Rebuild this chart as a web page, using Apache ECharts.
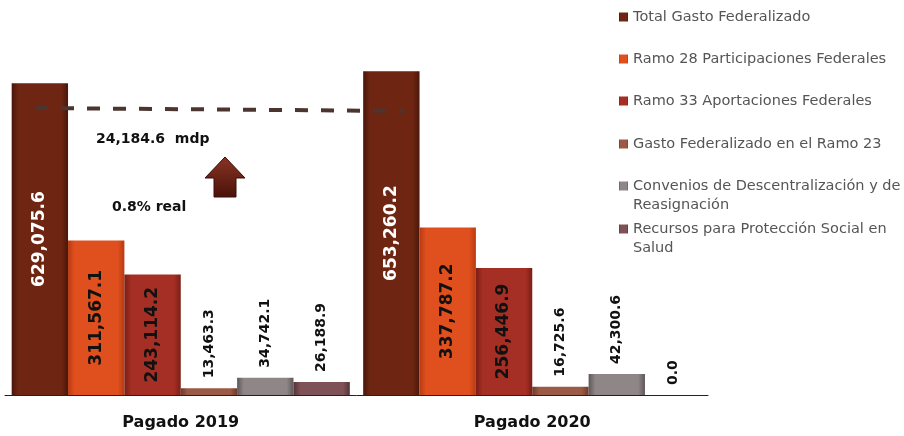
<!DOCTYPE html>
<html>
<head>
<meta charset="utf-8">
<script src="https://cdn.jsdelivr.net/npm/echarts@6/dist/echarts.min.js"></script>
<style>html,body{margin:0;padding:0;background:#fff;}#c{width:904px;height:436px;}</style>
</head>
<body>
<div id="c"></div>
<script>
const categories = ['Pagado 2019', 'Pagado 2020'];
const seriesNames = [
  'Total Gasto Federalizado',
  'Ramo 28 Participaciones Federales',
  'Ramo 33 Aportaciones Federales',
  'Gasto Federalizado en el Ramo 23',
  'Convenios de Descentralización y de Reasignación',
  'Recursos para Protección Social en Salud'
];
const totalGasto = [629075.6, 653260.2];
const ramo28 = [311567.1, 337787.2];
const ramo33 = [243114.2, 256446.9];
const ramo23 = [13463.3, 16725.6];
const convenios = [34742.1, 42300.6];
const recursosSalud = [26188.9, 0.0];
const legendLines = [
  ['Total Gasto Federalizado'],
  ['Ramo 28 Participaciones Federales'],
  ['Ramo 33 Aportaciones Federales'],
  ['Gasto Federalizado en el Ramo 23'],
  ['Convenios de Descentralización y de', 'Reasignación'],
  ['Recursos para Protección Social en', 'Salud']
];
const annotationAmount = '24,184.6  mdp';
const annotationReal = '0.8% real';

const baseColors = ['#6E2612', '#E0501E', '#A52F24', '#9A5A45', '#8F8787', '#7E5257'];
const edgeColors = ['#4A160A', '#B83A12', '#7A1E16', '#6E3A2A', '#5E5757', '#553236'];

function grad(i) {
  return new echarts.graphic.LinearGradient(0, 0, 1, 0, [
    {offset: 0, color: edgeColors[i]},
    {offset: 0.12, color: baseColors[i]},
    {offset: 0.88, color: baseColors[i]},
    {offset: 1, color: edgeColors[i]}
  ]);
}
function fmt(p) {
  return p.value.toLocaleString('en-US', {minimumFractionDigits: 1, maximumFractionDigits: 1});
}
const dataArrs = [totalGasto, ramo28, ramo33, ramo23, convenios, recursosSalud];
const series = dataArrs.map((arr, i) => {
  let label;
  if (i < 3) {
    label = {show: true, position: 'inside', rotate: 90, formatter: fmt,
      color: i === 0 ? '#ffffff' : '#111111', fontFamily: 'DejaVu Sans', fontWeight: 'bold', fontSize: 17};
  } else {
    label = {show: true, position: 'top', distance: 10, rotate: 90, align: 'left', verticalAlign: 'middle',
      formatter: fmt, color: '#111111', fontFamily: 'DejaVu Sans', fontWeight: 'bold', fontSize: 14};
  }
  return {
    name: seriesNames[i], type: 'bar', data: arr, barGap: '0%', barCategoryGap: '3.8%',
    itemStyle: {color: grad(i), borderWidth: 0},
    label: label
  };
});

const legends = seriesNames.map((n, i) => ({
  data: [n], orient: 'vertical', left: 619,
  top: [7, 49, 91, 134, 176, 219][i],
  icon: 'rect', itemWidth: 9, itemHeight: 9, itemGap: 0, padding: 0,
  formatter: () => legendLines[i][0],
  textStyle: {fontFamily: 'DejaVu Sans', fontSize: 14.5, color: '#555555', lineHeight: 20}
}));

const chart = echarts.init(document.getElementById('c'));
chart.setOption({
  animation: false,
  backgroundColor: '#ffffff',
  color: baseColors,
  grid: {left: 5, right: 196, top: 48, bottom: 41},
  xAxis: {type: 'category', data: categories,
    axisLine: {lineStyle: {color: '#222', width: 1}}, axisTick: {show: false},
    axisLabel: {color: '#111', fontFamily: 'DejaVu Sans', fontWeight: 'bold', fontSize: 16, margin: 20}},
  yAxis: {type: 'value', min: 0, max: 700000, show: false},
  legend: legends,
  series: series,
  graphic: [
    {type: 'line', z: 100, shape: {x1: 35, y1: 108, x2: 404, y2: 111},
      style: {stroke: '#4B3530', lineWidth: 4, lineDash: [13, 13], lineCap: 'butt'}},
    {type: 'text', left: 96, top: 132, z: 100,
      style: {text: annotationAmount, fontFamily: 'DejaVu Sans', fontWeight: 'bold', fontSize: 14, fill: '#111'}},
    {type: 'text', left: 112, top: 200, z: 100,
      style: {text: annotationReal, fontFamily: 'DejaVu Sans', fontWeight: 'bold', fontSize: 14, fill: '#111'}},
    {type: 'polygon', z: 100,
      shape: {points: [[225, 157], [245, 178], [236, 178], [236, 197], [214, 197], [214, 178], [205, 178]]},
      style: {fill: new echarts.graphic.LinearGradient(0, 0, 0, 1, [
        {offset: 0, color: '#8A3424'}, {offset: 1, color: '#4A120A'}]), stroke: '#3A0E08', lineWidth: 1}},
    {type: 'text', left: 633, top: 198, z: 100,
      style: {text: legendLines[4][1], fontFamily: 'DejaVu Sans', fontSize: 14.5, fill: '#555555'}},
    {type: 'text', left: 633, top: 241, z: 100,
      style: {text: legendLines[5][1], fontFamily: 'DejaVu Sans', fontSize: 14.5, fill: '#555555'}}
  ]
});
</script>
</body>
</html>
